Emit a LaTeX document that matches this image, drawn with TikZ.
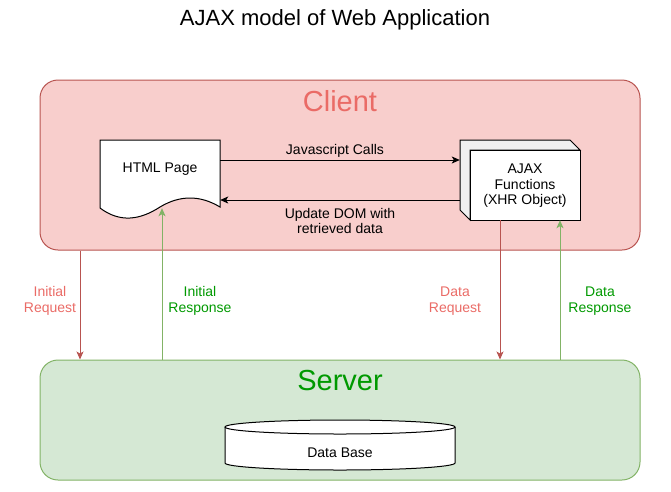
\documentclass[tikz,border=0pt]{standalone}
\usepackage{fontspec}
\setmainfont{Liberation Sans}
\usetikzlibrary{arrows.meta}
\definecolor{cfill}{HTML}{F8CECC}
\definecolor{cstroke}{HTML}{B85450}
\definecolor{sfill}{HTML}{D5E8D4}
\definecolor{sstroke}{HTML}{82B366}
\definecolor{redtxt}{HTML}{EA6B66}
\definecolor{greentxt}{HTML}{009900}
\tikzset{
  lbl/.style={font=\fontsize{14}{15.5}\selectfont, align=center, inner sep=0pt},
  bigtitle/.style={font=\fontsize{29}{32}\selectfont, inner sep=0pt},
  area/.style={rounded corners=18pt, line width=1pt},
  arr/.style={line width=1pt, -{Stealth[length=8pt,width=7pt,inset=2pt]}},
  shp/.style={draw=black, line width=1pt, fill=white},
}
\begin{document}
\begin{tikzpicture}[x=1pt,y=-1pt]
\useasboundingbox (0,0) rectangle (671,491);
\node[font=\fontsize{22}{26}\selectfont, inner sep=0pt] (title) at (335,20) {AJAX model of Web Application};
% client and server areas
\node[area, draw=cstroke, fill=cfill, minimum width=600pt, minimum height=170pt] (client) at (340,165) {};
\node[area, draw=sstroke, fill=sfill, minimum width=600pt, minimum height=120pt] (server) at (340,420) {};
\node[bigtitle, text=redtxt] (clientlbl) at (340,101) {Client};
\node[bigtitle, text=greentxt] (serverlbl) at (340,381) {Server};
% HTML page (document shape)
\node[minimum width=120pt, minimum height=80pt, inner sep=0pt] (html) at (160,180) {};
\draw[shp] (100,140) -- (220,140) -- (220,207) .. controls (200,195) and (180,195) .. (160,207)
  .. controls (140,220) and (120,223) .. (100,208) -- cycle;
\node[lbl] (htmltxt) at (160,169) {HTML Page};
% AJAX cube
\node[minimum width=120pt, minimum height=80pt, inner sep=0pt] (ajax) at (520,180) {};
\draw[shp, fill=black!6] (460,140) -- (570,140) -- (580,150) -- (470,150) -- (470,220) -- (460,210) -- cycle;
\draw[shp] (470,150) rectangle (580,220);
\node[lbl] (ajaxtxt) at (525,186) {AJAX\\Functions\\(XHR Object)};
% database cylinder
\node[minimum width=230pt, minimum height=50pt, inner sep=0pt] (db) at (340,445) {};
\draw[shp] (225,427) -- (225,463) arc[start angle=180, end angle=0, x radius=115, y radius=7] -- (455,427);
\draw[shp] (340,427) ellipse[x radius=115, y radius=7];
\node[lbl] (dbtxt) at (340,453) {Data Base};
% client internal arrows
\draw[arr] ([yshift=20pt]html.east) -- ([yshift=20pt]ajax.west);
\node[lbl] (jslbl) at (335,151) {Javascript Calls};
\draw[arr] ([yshift=-20pt]ajax.west) -- ([yshift=-20pt]html.east);
\node[lbl] (domlbl) at (340,221) {Update DOM with\\retrieved data};
% client-server arrows
\draw[arr, draw=cstroke] ([xshift=-260pt]client.south) -- ([xshift=-260pt]server.north);
\draw[arr, draw=sstroke] ([xshift=-178pt]server.north) -- ([xshift=2pt,yshift=12pt]html.south);
\draw[arr, draw=cstroke] ([xshift=-20pt]ajax.south) -- ([xshift=160pt]server.north);
\draw[arr, draw=sstroke] ([xshift=220pt]server.north) -- ([xshift=40pt]ajax.south);
\node[lbl, text=redtxt] (ireq) at (50,301) {Initial\\Request};
\node[lbl, text=greentxt] (iresp) at (200,301) {Initial\\Response};
\node[lbl, text=redtxt] (dreq) at (455,301) {Data\\Request};
\node[lbl, text=greentxt] (dresp) at (600,301) {Data\\Response};
\end{tikzpicture}
\end{document}
